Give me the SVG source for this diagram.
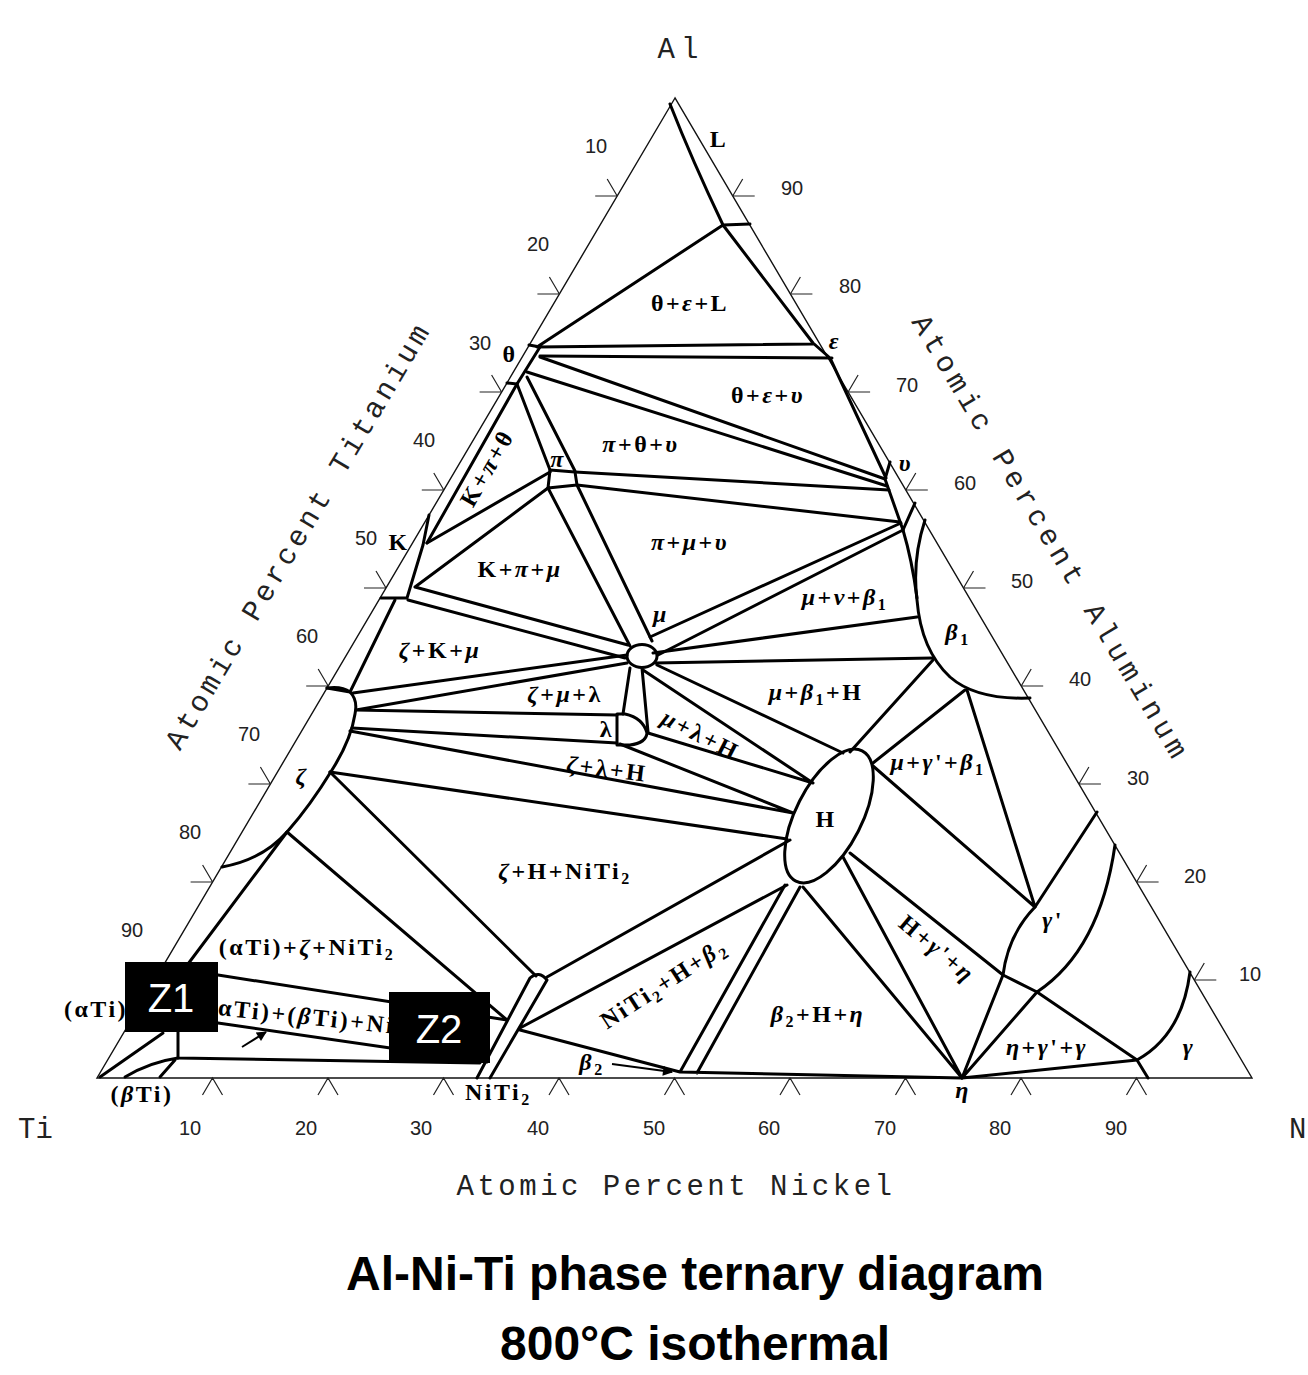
<svg xmlns="http://www.w3.org/2000/svg" width="1308" height="1375" viewBox="0 0 1308 1375">
<style>
.edge{fill:none;stroke:#111;stroke-width:1.4}
.b{fill:none;stroke:#000;stroke-width:3;stroke-linecap:round;stroke-linejoin:round}
.tk{fill:none;stroke:#222;stroke-width:1.2}
.num{font-family:"Liberation Sans",Arial,sans-serif;font-size:20px;fill:#222;text-anchor:middle}
.ax{font-family:"Liberation Mono","Courier New",monospace;font-size:29px;fill:#222;text-anchor:middle}
.ph{font-family:"Liberation Serif","Times New Roman",serif;font-size:24px;font-weight:bold;fill:#000;text-anchor:middle;letter-spacing:2.5px}
.gk{font-style:italic}
.sub{font-size:16px;font-style:normal}
.zb{fill:#000}
.zt{font-family:"Liberation Sans",Arial,sans-serif;font-size:40px;fill:#fff;text-anchor:middle}
.ttl{font-family:"Liberation Sans",Arial,sans-serif;font-size:48px;font-weight:bold;fill:#000;text-anchor:middle}
</style>
<defs>
<marker id="ah" viewBox="0 0 10 10" refX="9" refY="5" markerWidth="7" markerHeight="5" orient="auto">
<path d="M0,0 L10,5 L0,10 Z" fill="#000"/>
</marker>
</defs>
<rect width="1308" height="1375" fill="#fff"/>

<!-- composition triangle: Al top, Ti lower left, Ni lower right -->
<g id="frame">
<path class="edge" d="M675,98 L97,1078 L1252,1078 Z"/>
</g>

<!-- scale ticks on the three sides -->
<g id="ticks" class="tk">
<path d="M617.2,196 h-22 M617.2,196 l-10,-17 M559.4,294 h-22 M559.4,294 l-10,-17 M501.6,392 h-22 M501.6,392 l-10,-17 M443.8,490 h-22 M443.8,490 l-10,-17 M386,588 h-22 M386,588 l-10,-17 M328.2,686 h-22 M328.2,686 l-10,-17 M270.4,784 h-22 M270.4,784 l-10,-17 M212.6,882 h-22 M212.6,882 l-10,-17 M154.8,980 h-22 M154.8,980 l-10,-17"/>
<path d="M732.7,196 h22 M732.7,196 l10,-17 M790.4,294 h22 M790.4,294 l10,-17 M848.1,392 h22 M848.1,392 l10,-17 M905.8,490 h22 M905.8,490 l10,-17 M963.5,588 h22 M963.5,588 l10,-17 M1021.2,686 h22 M1021.2,686 l10,-17 M1078.9,784 h22 M1078.9,784 l10,-17 M1136.6,882 h22 M1136.6,882 l10,-17 M1194.3,980 h22 M1194.3,980 l10,-17"/>
<path d="M202.5,1095 L212.5,1078 L222.5,1095 M318,1095 L328,1078 L338,1095 M433.5,1095 L443.5,1078 L453.5,1095 M549,1095 L559,1078 L569,1095 M664.5,1095 L674.5,1078 L684.5,1095 M780,1095 L790,1078 L800,1095 M895.5,1095 L905.5,1078 L915.5,1095 M1011,1095 L1021,1078 L1031,1095 M1126.5,1095 L1136.5,1078 L1146.5,1095"/>
</g>

<g id="tick-numbers" class="num">
<text x="596" y="153">10</text><text x="538" y="251">20</text><text x="480" y="350">30</text><text x="424" y="447">40</text><text x="366" y="545">50</text><text x="307" y="643">60</text><text x="249" y="741">70</text><text x="190" y="839">80</text><text x="132" y="937">90</text>
<text x="792" y="195">90</text><text x="850" y="293">80</text><text x="907" y="392">70</text><text x="965" y="490">60</text><text x="1022" y="588">50</text><text x="1080" y="686">40</text><text x="1138" y="785">30</text><text x="1195" y="883">20</text><text x="1250" y="981">10</text>
<text x="190" y="1135">10</text><text x="306" y="1135">20</text><text x="421" y="1135">30</text><text x="538" y="1135">40</text><text x="654" y="1135">50</text><text x="769" y="1135">60</text><text x="885" y="1135">70</text><text x="1000" y="1135">80</text><text x="1116" y="1135">90</text>
</g>

<g id="axis-titles" class="ax">
<text x="681" y="58" letter-spacing="6">Al</text>
<text x="18" y="1138" text-anchor="start">Ti</text>
<text x="1289" y="1138" text-anchor="start">N</text>
<text x="676" y="1195" letter-spacing="3.5">Atomic Percent Nickel</text>
<text transform="translate(306,540) rotate(-59.2)" letter-spacing="4">Atomic Percent Titanium</text>
<text transform="translate(1043,543) rotate(59.2)" letter-spacing="5">Atomic Percent Aluminum</text>
</g>

<!-- phase boundaries and tie triangles -->
<g id="boundaries" class="b">
<!-- Al-rich corner -->
<path d="M670,104 Q692,160 723,225 L750,224 M723,225 L813,343 L830,358 L886,478 M723,225 L537,347 M537,347 L813,344 M540,356 L832,358"/>
<!-- theta -->
<path d="M529,345 L540,347 L517,384 L507,383"/>
<path d="M540,357 L885,479 M527,372 L887,486"/>
<path d="M517,384 L550,470 M527,377 L575,471"/>
<!-- pi -->
<path d="M550,470 L575,472 L577,485 L548,488 Z"/>
<path d="M575,472 L889,490 M577,485 L900,522"/>
<!-- K -->
<path d="M517,384 L427,543"/>
<path d="M429,515 L423,545 L407,598 L381,598"/>
<path d="M427,543 L550,472 M415,587 L548,488 M415,587 L628,645 M408,600 L625,658"/>
<path d="M548,488 L630,646 M577,485 L652,641"/>
<path d="M395,600 L350,692 L327,688"/>
<!-- upsilon -->
<path d="M890,462 L885,479 L903,530 L915,503"/>
<path d="M650,637 L901,523 M658,655 L903,530"/>
<path d="M903,530 Q912,560 917,598"/>
<!-- beta1 -->
<path d="M925,520 Q912,560 917,600 Q921,650 950,677 Q976,700 1030,698"/>
<path d="M653,653 L917,617 M655,663 L933,658"/>
<!-- mu -->
<ellipse cx="642" cy="656" rx="15" ry="11.5"/>
<!-- zeta -->
<path d="M327,688 Q342,686 350,692 Q358,700 355,714 Q351,740 332,770 Q310,806 287,832 Q262,860 222,867"/>
<path d="M353,693 L627,655 M356,710 L627,663 M356,710 L617,715 M352,728 L617,743"/>
<!-- lambda -->
<path d="M617,714 L625,714 Q643,718 647,733 Q646,743 630,745 L617,745 Z"/>
<path d="M630,668 L623,714 M642,668 L648,732"/>
<!-- ties into H -->
<path d="M350,731 L793,813 M620,744 L793,813 M648,733 L813,783 M643,670 L813,783 M657,665 L843,753 M330,772 L787,839"/>
<ellipse cx="829" cy="816" rx="73" ry="33" transform="rotate(-63 829 816)"/>
<path d="M850,752 L933,660 M873,763 L965,690 M967,690 L1035,907 M873,766 L1035,907 M1097,812 L1035,907"/>
<!-- gamma prime / gamma -->
<path d="M1115,845 Q1100,950 1037,992 L1003,975 Q1008,935 1035,907"/>
<path d="M850,853 L1003,975 M962,1078 L1003,975 M962,1078 L1037,992 L1137,1060 L962,1078"/>
<path d="M1190,972 Q1182,1035 1137,1060 L1148,1078"/>
<path d="M803,887 L962,1078 M843,857 L962,1078"/>
<!-- NiTi2 / beta2 -->
<path d="M477,1078 L530,978 Q539,970 547,980 L490,1078"/>
<path d="M330,772 L536,976 M287,832 L507,1020 M547,977 L790,840 M520,1028 L787,885"/>
<path d="M520,1030 L680,1072 L962,1078 M680,1072 L785,885 M697,1073 L800,887"/>
<!-- Ti-rich corner -->
<path d="M287,832 L176,980"/>
<path d="M218,975 L507,1020 M218,1023 L487,1062 M178,1058 L480,1063 M178,1030 L178,1058"/>
<path d="M163,1033 L100,1077 M125,1077 Q150,1062 178,1058 M160,1077 L175,1060"/>
</g>

<!-- pointers to the narrow fields -->
<g id="pointers">
<path d="M612,1064 L672,1072" stroke="#000" stroke-width="2" fill="none" marker-end="url(#ah)"/>
<path d="M242,1047 L266,1032" stroke="#000" stroke-width="2" fill="none" marker-end="url(#ah)"/>
</g>

<g id="phase-labels" class="ph">
<text x="719" y="147">L</text>
<text x="690" y="311">θ+<tspan class="gk">ε</tspan>+L</text>
<text x="835" y="349" class="gk">ε</text>
<text x="510" y="362">θ</text>
<text x="768" y="403">θ+<tspan class="gk">ε</tspan>+<tspan class="gk">υ</tspan></text>
<text x="641" y="452"><tspan class="gk">π</tspan>+θ+<tspan class="gk">υ</tspan></text>
<text x="558" y="467" class="gk">π</text>
<text x="906" y="471" class="gk">υ</text>
<text transform="translate(494,472) rotate(-60)">K+<tspan class="gk">π</tspan>+θ</text>
<text x="399" y="550">K</text>
<text x="520" y="577">K+<tspan class="gk">π</tspan>+<tspan class="gk">μ</tspan></text>
<text x="690" y="550"><tspan class="gk">π</tspan>+<tspan class="gk">μ</tspan>+<tspan class="gk">υ</tspan></text>
<text x="845" y="605"><tspan class="gk">μ</tspan>+<tspan class="gk">ν</tspan>+<tspan class="gk">β</tspan><tspan class="sub" dy="5">1</tspan></text>
<text x="958" y="640"><tspan class="gk">β</tspan><tspan class="sub" dy="5">1</tspan></text>
<text x="661" y="622" class="gk">μ</text>
<text x="440" y="658"><tspan class="gk">ζ</tspan>+K+<tspan class="gk">μ</tspan></text>
<text x="565" y="702"><tspan class="gk">ζ</tspan>+<tspan class="gk">μ</tspan>+λ</text>
<text x="607" y="737">λ</text>
<text transform="translate(697,742) rotate(27)"><tspan class="gk">μ</tspan>+λ+H</text>
<text x="816" y="700"><tspan class="gk">μ</tspan>+<tspan class="gk">β</tspan><tspan class="sub" dy="5">1</tspan><tspan dy="-5">+H</tspan></text>
<text transform="translate(606,777) rotate(7)"><tspan class="gk">ζ</tspan>+λ+H</text>
<text x="302" y="784" class="gk">ζ</text>
<text x="938" y="770"><tspan class="gk">μ</tspan>+<tspan class="gk">γ</tspan>'+<tspan class="gk">β</tspan><tspan class="sub" dy="5">1</tspan></text>
<text x="826" y="827">H</text>
<text x="565" y="879"><tspan class="gk">ζ</tspan>+H+NiTi<tspan class="sub" dy="5">2</tspan></text>
<text x="307" y="955">(αTi)+<tspan class="gk">ζ</tspan>+NiTi<tspan class="sub" dy="5">2</tspan></text>
<text x="1053" y="928"><tspan class="gk">γ</tspan>'</text>
<text x="96" y="1017">(αTi)</text>
<text transform="translate(207,1014) rotate(6)" text-anchor="start">(αTi)+(<tspan class="gk">β</tspan>Ti)+NiTi<tspan class="sub" dy="5">2</tspan></text>
<text transform="translate(668,990) rotate(-33)">NiTi<tspan class="sub" dy="5">2</tspan><tspan dy="-5">+H+</tspan><tspan class="gk">β</tspan><tspan class="sub" dy="5">2</tspan></text>
<text x="818" y="1022"><tspan class="gk">β</tspan><tspan class="sub" dy="5">2</tspan><tspan dy="-5">+H+</tspan><tspan class="gk">η</tspan></text>
<text transform="translate(932,955) rotate(40)">H+<tspan class="gk">γ</tspan>'+<tspan class="gk">η</tspan></text>
<text x="1047" y="1055"><tspan class="gk">η</tspan>+<tspan class="gk">γ</tspan>'+<tspan class="gk">γ</tspan></text>
<text x="1189" y="1055" class="gk">γ</text>
<text x="592" y="1070"><tspan class="gk">β</tspan><tspan class="sub" dy="5">2</tspan></text>
<text x="963" y="1098" class="gk">η</text>
<text x="465" y="1100" text-anchor="start">NiTi<tspan class="sub" dy="5">2</tspan></text>
<text x="142" y="1102">(<tspan class="gk">β</tspan>Ti)</text>
</g>

<!-- zone markers -->
<g id="Z1">
<rect class="zb" x="125" y="962" width="93" height="70"/>
<text class="zt" x="171" y="1012">Z1</text>
</g>
<g id="Z2">
<rect class="zb" x="389" y="992" width="101" height="71"/>
<text class="zt" x="439" y="1043">Z2</text>
</g>

<g id="title" class="ttl">
<text x="695" y="1290">Al-Ni-Ti phase ternary diagram</text>
<text x="695" y="1360">800°C isothermal</text>
</g>
</svg>
